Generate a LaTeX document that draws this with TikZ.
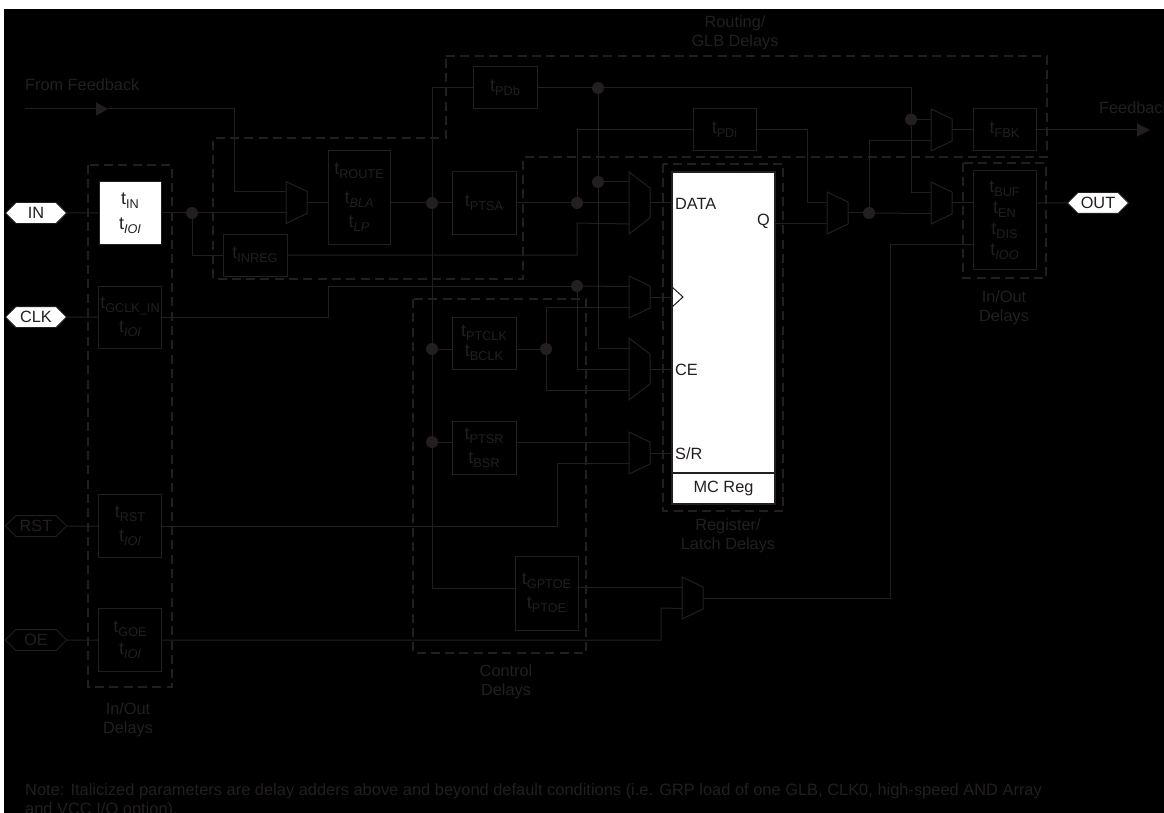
\documentclass[tikz,border=0pt]{standalone}
\usepackage{fontspec}
\setmainfont{Liberation Sans}
\usetikzlibrary{arrows.meta,shapes.symbols}
\definecolor{ink}{HTML}{231F20}
\newcommand{\tsub}[1]{{\fontsize{18}{24}\selectfont t}\raisebox{-0.45ex}{\fontsize{12.7}{13}\selectfont #1}}
\newcommand{\tadd}[1]{\tsub{\itshape #1}}

\begin{document}
\begin{tikzpicture}[
    x=1pt,
    y=-1pt,
    wire/.style={draw=ink, line width=1pt},
    groupline/.style={draw=ink, line width=2.4pt, dash pattern=on 9pt off 5.3pt},
    delaybox/.style={draw=ink, line width=1pt, inner sep=0pt, align=center, text=ink,
      font=\fontsize{16.3}{24}\selectfont},
    junction/.style={circle, fill=ink, inner sep=0pt, minimum size=12pt},
    port/.style={signal, signal to=west and east, signal pointer angle=90, draw=ink,
      line width=1pt, inner sep=0pt, minimum width=61pt, minimum height=21pt, text=ink,
      font=\fontsize{16.3}{18}\selectfont},
    grouplabel/.style={align=center, inner sep=0pt, text=ink,
      font=\fontsize{16.3}{19}\selectfont},
    pinlabel/.style={inner sep=0pt, text=ink, font=\fontsize{16.3}{18}\selectfont}
  ]
    \newcommand{\muxtwo}[3]{%
      \draw[wire] (#2,#3) -- ++(21,10) -- ++(0,22) -- ++(-21,10) -- cycle;
      \coordinate (#1a) at (#2,#3+10.5);
      \coordinate (#1b) at (#2,#3+31.5);
      \coordinate (#1out) at (#2+21,#3+21);
    }
    \newcommand{\muxthree}[3]{%
      \draw[wire] (#2,#3) -- ++(21,16) -- ++(0,30) -- ++(-21,16) -- cycle;
      \coordinate (#1a) at (#2,#3+10);
      \coordinate (#1b) at (#2,#3+31);
      \coordinate (#1c) at (#2,#3+52);
      \coordinate (#1out) at (#2+21,#3+31);
    }

    \useasboundingbox (0,0) rectangle (1164,813);
    \fill[white] (0,0) rectangle (1164,813);
    \fill[black] (4,9) rectangle (1164,813);

    \draw[groupline] (88,165) rectangle (172,687);
    \draw[groupline] (446,56) -- (1047,56) -- (1047,157) -- (523,157) -- (523,279)
      -- (213,279) -- (213,138) -- (446,138) -- cycle;
    \draw[groupline] (413,299) rectangle (586,653);
    \draw[groupline] (663,164) rectangle (783,511);
    \draw[groupline] (963,163) rectangle (1046,278);

    \node[port, fill=white] (portin) at (36,213) {IN};
    \node[port, fill=white] (portclk) at (36,317) {CLK};
    \node[port] (portrst) at (36,526) {RST};
    \node[port] (portoe) at (36,640) {OE};
    \node[port, fill=white] (portout) at (1098,203) {OUT};

    \node[delaybox, fill=white, minimum width=62pt, minimum height=62pt] (tin) at (130,213)
      {\tsub{IN}\\[1pt]\tadd{IOI}};
    \node[delaybox, minimum width=63pt, minimum height=62pt] (tgclk) at (130,317)
      {\tsub{GCLK\_IN}\\\tadd{IOI}};
    \node[delaybox, minimum width=63pt, minimum height=63pt] (trst) at (130,526)
      {\tsub{RST}\\\tadd{IOI}};
    \node[delaybox, minimum width=63pt, minimum height=63pt] (tgoe) at (130,640)
      {\tsub{GOE}\\[-2pt]\tadd{IOI}};
    \node[delaybox, minimum width=64pt, minimum height=42pt] (tinreg) at (255,255)
      {\tsub{INREG}};
    \node[delaybox, minimum width=62pt, minimum height=93pt] (troute) at (359,197.5)
      {\tsub{ROUTE}\\[5pt]\tadd{BLA}\\\tadd{LP}};
    \node[delaybox, minimum width=64pt, minimum height=63pt] (tptsa) at (484,203)
      {\tsub{PTSA}};
    \node[delaybox, minimum width=64pt, minimum height=42pt] (tpdb) at (505,88)
      {\tsub{PDb}};
    \node[delaybox, minimum width=63pt, minimum height=42pt] (tpdi) at (724.5,130)
      {\tsub{PDi}};
    \node[delaybox, minimum width=63pt, minimum height=42pt] (tfbk) at (1004.5,130)
      {\tsub{FBK}};
    \node[delaybox, minimum width=63pt, minimum height=98pt] (tbuf) at (1004.5,220)
      {\tsub{BUF}\\[-3pt]\tsub{EN}\\[-3pt]\tsub{DIS}\\[-3pt]\tadd{IOO}};
    \node[delaybox, minimum width=64pt, minimum height=52pt] (tptclk) at (484,343)
      {\tsub{PTCLK}\\[-4pt]\tsub{BCLK}};
    \node[delaybox, minimum width=64pt, minimum height=53pt] (tptsr) at (484,447.5)
      {\tsub{PTSR}\\\tsub{BSR}};
    \node[delaybox, minimum width=63pt, minimum height=74pt] (tgptoe) at (546.5,593)
      {\tsub{GPTOE}\\\tsub{PTOE}};

    \node[draw=ink, line width=1.5pt, fill=white, inner sep=0pt, minimum width=103pt,
      minimum height=301pt] (regcore) at (723.5,322.5) {};
    \node[draw=ink, line width=1.5pt, fill=white, inner sep=0pt, minimum width=103pt,
      minimum height=31pt, text=ink, font=\fontsize{16.3}{18}\selectfont] (regfoot) at (723.5,488.5) {MC Reg};
    \node[pinlabel, anchor=west] (pindata) at (675,204) {DATA};
    \node[pinlabel, anchor=east] (pinq) at (770,221.5) {Q};
    \node[pinlabel, anchor=west] (pince) at (675,370) {CE};
    \node[pinlabel, anchor=west] (pinsr) at (675,454) {S/R};
    \draw[wire] (672,287) -- (683,297) -- (672,307);

    \muxtwo{muxin}{286}{181.5}
    \muxthree{muxdata}{629}{172}
    \muxtwo{muxclk}{629}{276}
    \muxthree{muxce}{629}{338}
    \muxtwo{muxsr}{629}{432}
    \muxtwo{muxq}{827}{192}
    \muxtwo{muxfbk}{931}{109}
    \muxtwo{muxout}{931}{182}
    \muxtwo{muxoe}{682}{577}

    \node[junction] (jin) at (192,213) {};
    \node[junction] (jroute) at (432,203) {};
    \node[junction] (jclkbar) at (432,349) {};
    \node[junction] (jsrbar) at (432,442) {};
    \node[junction] (jsa) at (577,203) {};
    \node[junction] (jpdb) at (598,88) {};
    \node[junction] (jdata) at (598,182) {};
    \node[junction] (jclk) at (577,286) {};
    \node[junction] (jptclk) at (546,349) {};
    \node[junction] (jfbk) at (911,119.5) {};
    \node[junction] (jq) at (869,213) {};

    \coordinate (fromstart) at (25,109);
    \coordinate (fromtip) at (108,109);
    \coordinate (fbktip) at (1150,130);
    \coordinate (inregturn) at (577,223);
    \coordinate (pditurn) at (807,202.5);
    \coordinate (gclkturn) at (328,286);
    \coordinate (oeturn) at (661,608);
    \coordinate (bufturn) at (890,244);

    \draw[wire, -{Triangle[length=12pt, width=13pt]}] (fromstart) -- (fromtip);
    \draw[wire] (fromtip) -| (muxina -| 234,0) -- (muxina);
    \draw[wire] (portin) -- (tin);
    \draw[wire] (tin) -- (jin);
    \draw[wire] (jin) -- (muxinb);
    \draw[wire] (jin) |- (tinreg);
    \draw[wire] (tinreg) -| (inregturn) -- (muxdatac);
    \draw[wire] (muxinout) -- (muxinout -| troute.west);
    \draw[wire] (jroute -| troute.east) -- (jroute);
    \draw[wire] (jroute) -- (tptsa);
    \draw[wire] (jroute) |- (tpdb);
    \draw[wire] (jroute) -- (jclkbar);
    \draw[wire] (jclkbar) -- (jsrbar);
    \draw[wire] (jsrbar) |- (432,588) -- (tgptoe.west |- 432,588);
    \draw[wire] (jclkbar) -- (jclkbar -| tptclk.west);
    \draw[wire] (jsrbar) -- (jsrbar -| tptsr.west);
    \draw[wire] (tptsa) -- (jsa);
    \draw[wire] (jsa) -- (muxdatab);
    \draw[wire] (jsa) |- (tpdi);
    \draw[wire] (tpdi) -| (pditurn) -- (muxqa);
    \draw[wire] (tpdb) -- (jpdb);
    \draw[wire] (jpdb) -- (jpdb -| jfbk) -- (jfbk);
    \draw[wire] (jfbk) -- (muxfbka);
    \draw[wire] (jfbk) |- (muxouta);
    \draw[wire] (jpdb) -- (jdata);
    \draw[wire] (jdata) -- (muxdataa);
    \draw[wire] (jdata) |- (muxcea);
    \draw[wire] (portclk) -- (tgclk);
    \draw[wire] (tgclk) -| (gclkturn) -- (jclk);
    \draw[wire] (jclk) -- (muxclka);
    \draw[wire] (jclk) |- (muxceb);
    \draw[wire] (jptclk -| tptclk.east) -- (jptclk);
    \draw[wire] (jptclk) |- (muxclkb);
    \draw[wire] (jptclk) |- (muxcec);
    \draw[wire] (muxsra -| tptsr.east) -- (muxsra);
    \draw[wire] (portrst) -- (trst);
    \draw[wire] (trst) -| (muxsrb -| 557,0) -- (muxsrb);
    \draw[wire] (portoe) -- (tgoe);
    \draw[wire] (tgoe) -| (oeturn) -- (muxoeb);
    \draw[wire] (muxoea -| tgptoe.east) -- (muxoea);
    \draw[wire] (muxdataout) -- (muxdataout -| regcore.west);
    \draw[wire] (muxclkout) -- (muxclkout -| regcore.west);
    \draw[wire] (muxceout) -- (muxceout -| regcore.west);
    \draw[wire] (muxsrout) -- (muxsrout -| regcore.west);
    \draw[wire] (muxqb -| regcore.east) -- (muxqb);
    \draw[wire] (muxqout) -- (jq);
    \draw[wire] (jq) -- (muxoutb);
    \draw[wire] (jq) |- (muxfbkb);
    \draw[wire] (muxfbkout) -- (muxfbkout -| tfbk.west);
    \draw[wire, -{Triangle[length=13pt, width=13pt]}] (tfbk) -- (fbktip);
    \draw[wire] (muxoutout) -- (muxoutout -| tbuf.west);
    \draw[wire] (portout -| tbuf.east) -- (portout);
    \draw[wire] (muxoeout) -| (bufturn) -- (bufturn -| tbuf.west);

    \node[grouplabel, anchor=west] (fromlabel) at (25,85) {From Feedback};
    \node[grouplabel, anchor=west] (fbklabel) at (1099,108) {Feedback};
    \node[grouplabel] (routinglabel) at (735,32.5) {Routing/\\GLB Delays};
    \node[grouplabel] (iolabelr) at (1004,308) {In/Out\\Delays};
    \node[grouplabel] (iolabell) at (128,719.5) {In/Out\\Delays};
    \node[grouplabel] (controllabel) at (506,682) {Control\\Delays};
    \node[grouplabel] (reglabel) at (728,535.5) {Register/\\Latch Delays};
    \node[grouplabel, anchor=west, align=left, font=\fontsize{16.43}{18.5}\selectfont] (notelabel) at (25,800.5)
      {Note: Italicized parameters are delay adders above and beyond default conditions (i.e. GRP load of one GLB, CLK0, high-speed AND Array\\and VCC I/O option).};
\end{tikzpicture}
\end{document}
